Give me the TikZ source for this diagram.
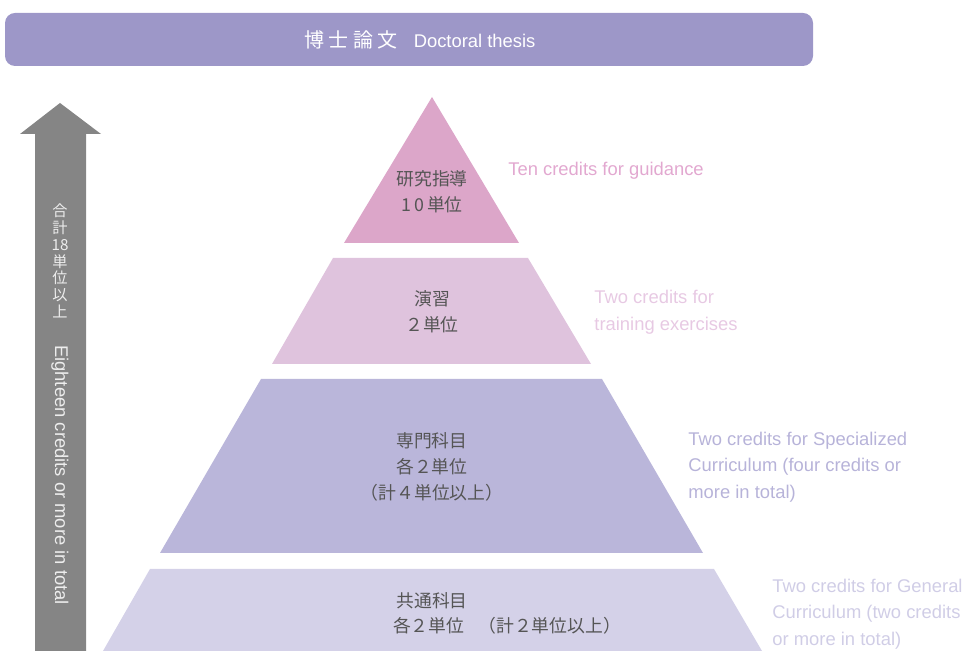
\documentclass[tikz,border=0pt]{standalone}
\usepackage{fontspec}
\setmainfont{Liberation Sans}
\newfontfamily\jp{Noto Sans CJK JP}
\usepackage{tikz}
\usetikzlibrary{positioning}
\definecolor{banner}{HTML}{9D97C8}
\definecolor{arrowgray}{HTML}{858585}
\definecolor{layerA}{HTML}{DCA6C9}
\definecolor{layerB}{HTML}{DFC3DD}
\definecolor{layerC}{HTML}{BAB6DA}
\definecolor{layerD}{HTML}{D4D1E8}
\definecolor{noteA}{HTML}{E2A8D0}
\definecolor{noteB}{HTML}{E7C9E3}
\definecolor{noteC}{HTML}{B7B3D9}
\definecolor{noteD}{HTML}{D0CDE6}
\definecolor{jptext}{HTML}{555555}
\tikzstyle{layertext} = [align=center, text=jptext, font=\jp\fontsize{8.9}{13}\selectfont, inner sep=0pt]
\tikzstyle{note} = [align=left, anchor=west, font=\fontsize{9.2}{13.3}\selectfont, inner sep=0pt]
\tikzstyle{arrowtext} = [text=white!93!black, inner sep=0pt]
\begin{document}
\begin{tikzpicture}[x=0.5pt, y=-0.5pt]
		\useasboundingbox (0,0) rectangle (971,651);
		% banner
		\fill[banner, rounded corners=5pt] (5,13) rectangle (813,66);
		\node (thesis) [text=white, inner sep=0pt] at (420,40) {{\jp\fontsize{10}{12}\selectfont 博\hspace{0.22em}士\hspace{0.22em}論\hspace{0.22em}文}\hspace{0.8em}{\fontsize{9.2}{10}\selectfont Doctoral thesis}};
		% arrow
		\fill[arrowgray] (35,651) -- (35,134) -- (20,134) -- (60,103) -- (101,134) -- (86,134) -- (86,651) -- cycle;
		\node (total) [arrowtext, align=center, font=\jp\fontsize{7.6}{8.4}\selectfont] at (60,261) {合\\計\\18\\単\\位\\以\\上};
		\node (totalen) [arrowtext, rotate=-90, font=\fontsize{9.2}{10}\selectfont] at (60,475) {Eighteen credits or more in total};
		% pyramid
		\fill[layerA] (344,243) -- (432,97) -- (519,243) -- cycle;
		\fill[layerB] (272,364) -- (333,258) -- (528,258) -- (591,364) -- cycle;
		\fill[layerC] (160,553) -- (261,379) -- (602,379) -- (703,553) -- cycle;
		\fill[layerD] (103,651) -- (150,569) -- (714,569) -- (762,651) -- cycle;
		\node (guide) [layertext] at (432,192) {研究指導\\1\,0\,単位};
		\node (semi) [layertext] at (432,312) {演習\\２単位};
		\node (spec) [layertext] at (432,467) {専門科目\\各２単位\\（計４単位以上）};
		\node (gen) [layertext] at (432,601) {共通科目};
		\node (genunit) [layertext] at (507,626) {各２単位\hspace{0.8em}（計２単位以上）};
		% notes
		\node (guidenote) [note, text=noteA] at (508,171) {Ten credits for guidance};
		\node (seminote) [note, text=noteB] at (594,312) {Two credits for\\training exercises};
		\node (specnote) [note, text=noteC] at (688,467) {Two credits for Specialized\\Curriculum (four credits or\\more in total)};
		\node (gennote) [note, text=noteD] at (772,614) {Two credits for General\\Curriculum (two credits\\or more in total)};
\end{tikzpicture}
\end{document}
